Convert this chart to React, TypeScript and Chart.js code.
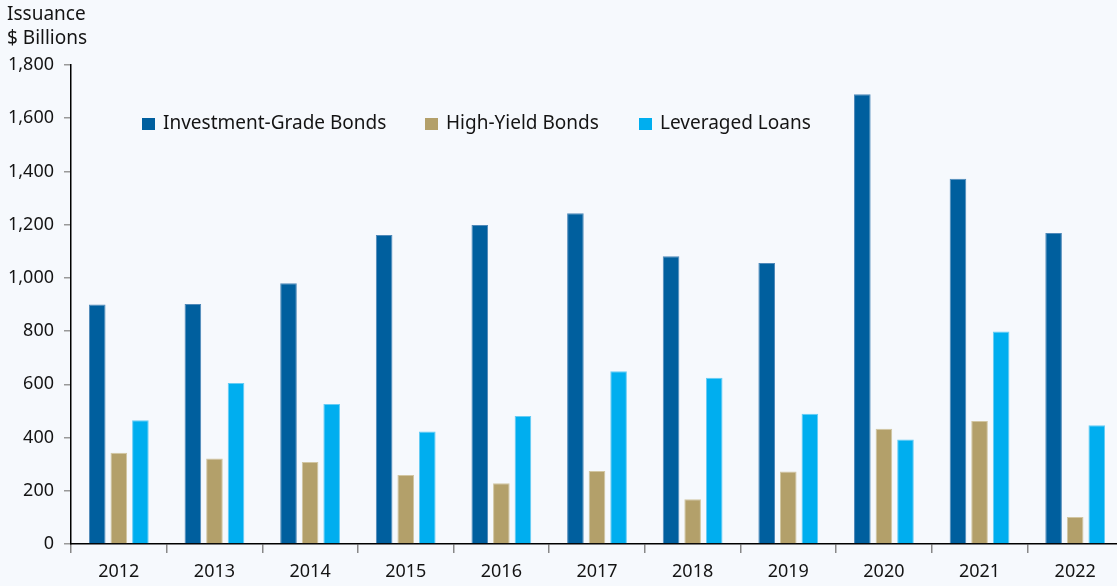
import React, { useEffect, useRef } from "react";
import { Chart, registerables } from "chart.js";

Chart.register(...registerables);

const years = ["2012", "2013", "2014", "2015", "2016", "2017", "2018", "2019", "2020", "2021", "2022"];
const investmentGrade = [900, 902, 980, 1161, 1199, 1243, 1081, 1056, 1690, 1373, 1169];
const highYield = [343, 321, 308, 259, 228, 274, 168, 272, 433, 462, 101];
const leveragedLoans = [465, 605, 526, 423, 481, 649, 625, 489, 393, 799, 446];
const seriesNames = ["Investment-Grade Bonds", "High-Yield Bonds", "Leveraged Loans"];
const yTicks = [0, 200, 400, 600, 800, 1000, 1200, 1400, 1600, 1800];
const axisTitle = ["Issuance", "$ Billions"];

const FONT = "'Noto Sans', sans-serif";
const BG = "#F6F9FD";
const TEXT = "#141414";

const titleLegendPlugin = {
  id: "titleLegend",
  beforeDraw(chart: any) {
    const ctx = chart.ctx;
    ctx.save();
    ctx.fillStyle = BG;
    ctx.fillRect(0, 0, chart.width, chart.height);
    ctx.restore();
  },
  afterDatasetsDraw(chart: any) {
    const ctx = chart.ctx;
    ctx.save();
    ctx.font = `19px ${FONT}`;
    ctx.fillStyle = TEXT;
    ctx.textBaseline = "middle";
    ctx.textAlign = "left";
    ctx.fillText(axisTitle[0], 7, 15);
    ctx.fillText(axisTitle[1], 7, 39);
    const starts = [142, 425, 639];
    chart.data.datasets.forEach((ds: any, i: number) => {
      const x = starts[i];
      ctx.fillStyle = ds.backgroundColor;
      ctx.fillRect(x, 118, 13, 12);
      ctx.fillStyle = TEXT;
      ctx.fillText(ds.label, x + 21, 124);
    });
    ctx.restore();
  },
};

export default function App() {
  const ref = useRef<HTMLCanvasElement>(null);
  useEffect(() => {
    if (!ref.current) return;
    const chart = new Chart(ref.current, {
      type: "bar",
      data: {
        labels: years,
        datasets: [
          { label: seriesNames[0], data: investmentGrade, backgroundColor: "#005F9E", borderColor: "#4F89B9", borderWidth: 1 },
          { label: seriesNames[1], data: highYield, backgroundColor: "#B3A06A", borderColor: "#D2C6A2", borderWidth: 1 },
          { label: seriesNames[2], data: leveragedLoans, backgroundColor: "#00AEEF", borderColor: "#66CCF4", borderWidth: 1 },
        ],
      },
      options: {
        responsive: false,
        animation: false,
        layout: { padding: { top: 65, left: 0, right: 0, bottom: 0 } },
        datasets: { bar: { categoryPercentage: 0.677, barPercentage: 0.77 } },
        plugins: {
          legend: { display: false },
          tooltip: { enabled: false },
          title: { display: false },
        },
        scales: {
          x: {
            offset: true,
            grid: {
              offset: true,
              drawOnChartArea: false,
              drawTicks: true,
              tickLength: 9,
              color: "#888888",
              lineWidth: 1.5,
            },
            border: { display: true, color: "#000000", width: 1.5 },
            ticks: { font: { family: FONT, size: 18 }, color: TEXT, padding: 8 },
            afterFit: (s: any) => { s.height = 42; },
          },
          y: {
            min: 0,
            max: 1800,
            afterBuildTicks: (s: any) => { s.ticks = yTicks.map((v) => ({ value: v })); },
            grid: {
              drawOnChartArea: false,
              drawTicks: true,
              tickLength: 7,
              color: "#999999",
              lineWidth: 1.5,
            },
            border: { display: true, color: "#000000", width: 1.5 },
            ticks: {
              font: { family: FONT, size: 18 },
              color: TEXT,
              padding: 10,
              callback: (v: any) => Number(v).toLocaleString("en-US"),
            },
            afterFit: (s: any) => { s.width = 71; },
          },
        },
      },
      plugins: [titleLegendPlugin],
    });
    return () => chart.destroy();
  }, []);
  return (
    <div style={{ position: "fixed", left: 0, top: 0, width: 1117, height: 586, overflow: "hidden", background: BG }}>
      <canvas ref={ref} width={1123} height={586} style={{ display: "block" }} />
    </div>
  );
}
